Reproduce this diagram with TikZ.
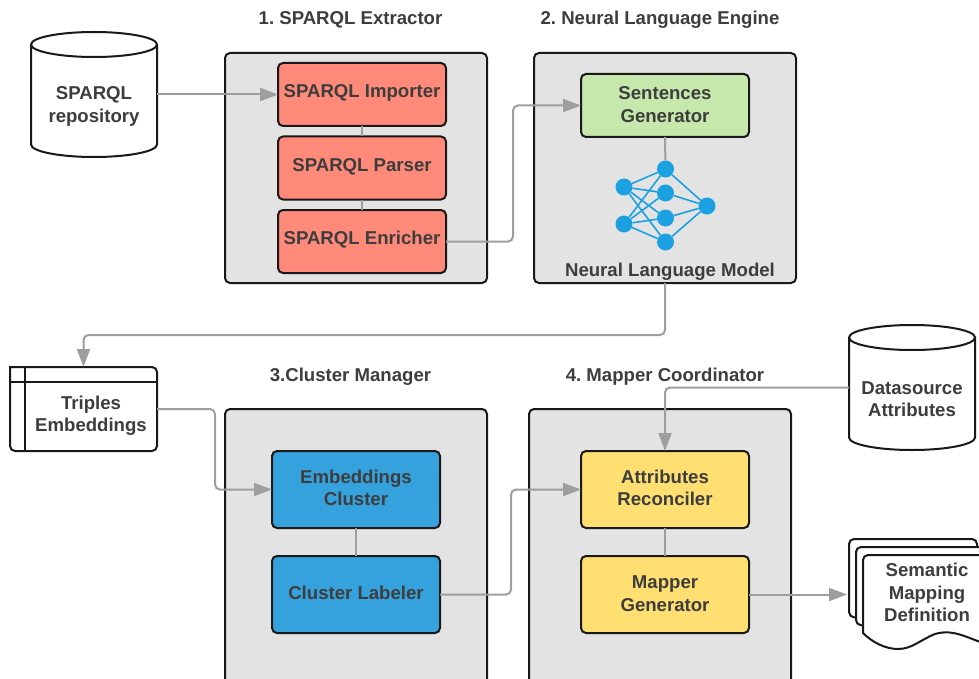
\documentclass[tikz,border=0pt]{standalone}
\usepackage{fontspec}
\setmainfont{Liberation Sans}
\usetikzlibrary{shapes.geometric,arrows.meta,calc}
\definecolor{txt}{HTML}{3D3D3D}
\definecolor{conn}{HTML}{9E9E9E}
\definecolor{panel}{HTML}{E3E3E3}
\definecolor{redb}{HTML}{FF8A7A}
\definecolor{greenb}{HTML}{C7E8AC}
\definecolor{blueb}{HTML}{36A2DD}
\definecolor{yellowb}{HTML}{FFDF71}
\definecolor{nn}{HTML}{1BA1E2}
\tikzset{
  lab/.style={font=\frenchspacing\bfseries\fontsize{18.6}{22.4}\selectfont,text=txt,align=center,inner sep=0pt,outer sep=0pt},
  panelbox/.style={draw=black!90,line width=2pt,fill=panel,rounded corners=5pt,minimum width=262pt,inner sep=0pt,outer sep=0pt,anchor=north west},
  procbox/.style={lab,draw=black!90,line width=2pt,rounded corners=5pt,minimum width=168pt,anchor=north west},
  cylarea/.style={inner sep=0pt,outer sep=0pt,minimum width=126pt,minimum height=125pt,anchor=north},
  link/.style={draw=conn,line width=2pt,rounded corners=5pt},
  arrowlink/.style={link,-{Triangle[length=18pt,width=13pt,fill=conn]}},
  plainlink/.style={draw=conn,line width=2pt},
  neuron/.style={circle,fill=nn,minimum size=17pt,inner sep=0pt},
  synapse/.style={draw=nn,line width=1.6pt},
  sheet/.style={draw=black!90,line width=2pt,fill=white},
}
% cylinder outline round a named area
\newcommand{\cylout}[1]{%
  \draw[sheet] ($(#1.north west)+(0,12.5)$) -- ($(#1.south west)+(0,-12.5)$)
    arc[start angle=180,end angle=0,x radius=63,y radius=12.5]
    -- ($(#1.north east)+(0,12.5)$)
    arc[start angle=0,end angle=-180,x radius=63,y radius=12.5]
    arc[start angle=180,end angle=0,x radius=63,y radius=12.5];}
\begin{document}
\begin{tikzpicture}[x=1pt,y=-1pt]
\clip (0,0) rectangle (979,679);
% panels
\node[panelbox,minimum height=230pt] (p1) at (225,53) {};
\node[panelbox,minimum height=230pt] (p2) at (534,53) {};
\node[panelbox,minimum height=285pt] (p3) at (225,409) {};
\node[panelbox,minimum height=285pt] (p4) at (529,409) {};
% titles
\node[lab] (t1) at (350.5,20) {1. SPARQL Extractor};
\node[lab] (t2) at (660,20) {2. Neural Language Engine};
\node[lab] (t3) at (350.5,377) {3.Cluster Manager};
\node[lab] (t4) at (665,377) {4. Mapper Coordinator};
\node[lab] (nlm) at (670,272) {Neural Language Model};
% stores
\node[cylarea] (repo) at (94,32) {};
\cylout{repo}
\node[lab] (repot) at (94,106.5) {SPARQL\\repository};
\node[cylarea] (dsa) at (912,325) {};
\cylout{dsa}
\node[lab] (dsat) at (912,399) {Datasource\\Attributes};
% process boxes
\node[procbox,fill=redb,minimum height=63pt,label={[lab,yshift=2pt]center:SPARQL Importer}] (imp) at (278,63) {};
\node[procbox,fill=redb,minimum height=63pt,label={[lab,yshift=1pt]center:SPARQL Parser}] (par) at (278,136.5) {};
\node[procbox,fill=redb,minimum height=63pt,label={[lab,yshift=2pt]center:SPARQL Enricher}] (enr) at (278,210) {};
\node[procbox,fill=greenb,minimum height=63pt,label={[lab,yshift=1pt]center:Sentences\\Generator}] (sen) at (581,74) {};
\node[procbox,fill=blueb,minimum height=77pt,label={[lab,yshift=1.5pt]center:Embeddings\\Cluster}] (emb) at (272,451) {};
\node[procbox,fill=blueb,minimum height=77pt,label={[lab,yshift=2pt]center:Cluster Labeler}] (lbl) at (272,556) {};
\node[procbox,fill=yellowb,minimum height=77pt,label={[lab,yshift=1.5pt]center:Attributes\\Reconciler}] (att) at (581,451) {};
\node[procbox,fill=yellowb,minimum height=77pt,label={[lab,yshift=1pt]center:Mapper\\Generator}] (map) at (581,556) {};
% internal storage
\node[lab,draw=none,minimum width=147pt,minimum height=84pt,anchor=north west] (tri) at (10,367) {};
\draw[sheet] (10,367) -- (152,367) arc[start angle=-90,end angle=0,radius=5] -- (157,446) arc[start angle=0,end angle=90,radius=5] -- (15,451) arc[start angle=90,end angle=180,radius=5] -- cycle;
\draw[sheet] (10,381.5) -- (157,381.5) (25,367) -- (25,451);
\node[lab] (trit) at (91,415.5) {Triples\\Embeddings};
% document stack
\draw[sheet,rounded corners=5pt] (849,617) -- (849,539) -- (977,539) -- (977,600) -- (960,625) -- cycle;
\draw[sheet,rounded corners=5pt] (856,625) -- (856,547) -- (990,547) -- (990,620) -- (960,630) -- cycle;
\draw[sheet] (863,633) -- (863,560) arc[start angle=180,end angle=270,radius=5] -- (990,555) -- (990,645) .. controls (970,640) and (955,628) .. (935,634) .. controls (920,640) and (912,649) .. (898,649) .. controls (885,649) and (872,642) .. (863,633) -- cycle;
\node[lab] (doc) at (927,592.5) {Semantic\\Mapping\\Definition};
\coordinate (docx) at (847,0);
% neural net
\foreach \n/\x/\y in {a/624/187,b/624/224,c/665.5/169,d/665.5/193,e/665.5/218,f/665.5/242,g/707/206}
  \node[neuron] (\n) at (\x,\y) {};
\foreach \u in {a,b}\foreach \v in {c,d,e,f}\draw[synapse] (\u) -- (\v);
\foreach \v in {c,d,e,f}\draw[synapse] (\v) -- (g);
% connectors
\draw[arrowlink] (repo.east |- imp.west) -- (imp.west);
\draw[plainlink] (imp) -- (par);
\draw[plainlink] (par) -- (enr);
\draw[plainlink] (emb) -- (lbl);
\draw[plainlink] (att) -- (map);
\draw[plainlink] (sen.south) -- (c);
\coordinate (k1) at (513,0);
\coordinate (k2) at (0,335);
\coordinate (k3) at (215,0);
\coordinate (k4) at (511,0);
\draw[arrowlink] (enr.east) -- (enr.east -| k1) -- (sen.west -| k1) -- (sen.west);
\draw[arrowlink] (p2.south -| sen.south) -- (sen.south |- k2) -- (k2 -| tri.north) -- (tri.north);
\draw[arrowlink] (tri.east) -- (tri.east -| k3) -- (emb.west -| k3) -- (emb.west);
\draw[arrowlink] (lbl.east) -- (lbl.east -| k4) -- (att.west -| k4) -- (att.west);
\draw[arrowlink] (dsa.west) -- (dsa.west -| att.north) -- (att.north);
\draw[arrowlink] (map.east) -- (map.east -| docx);
\end{tikzpicture}
\end{document}
